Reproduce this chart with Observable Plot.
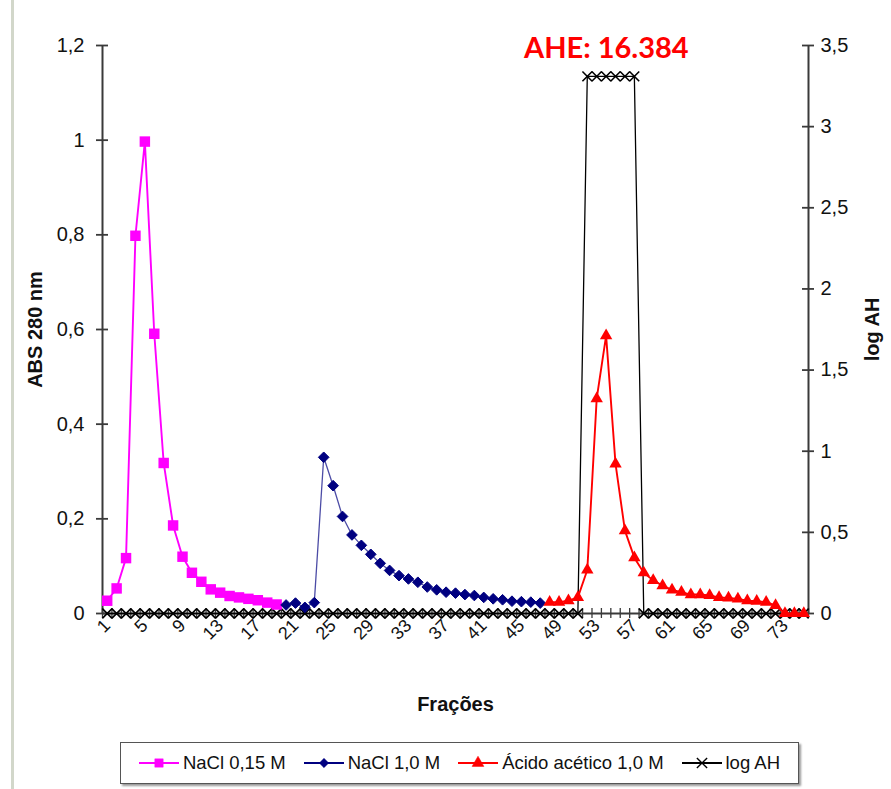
<!DOCTYPE html>
<html><head><meta charset="utf-8">
<script src="https://cdn.jsdelivr.net/npm/d3@7"></script>
<script src="https://cdn.jsdelivr.net/npm/@observablehq/plot@0.6"></script>
<style>
body{margin:0;background:#fff;font-family:"Liberation Sans",Arial,sans-serif;}
#wrap{position:relative;width:891px;height:789px;overflow:hidden;background:#fff;}
#edge{position:absolute;left:11px;top:0;width:3px;height:789px;background:#d2d7ca;}
#chart{position:absolute;left:0;top:0;}
#title{position:absolute;left:524px;top:29px;font-family:Lato,"Open Sans",sans-serif;font-weight:bold;font-size:29px;color:#ff0000;line-height:36px;white-space:nowrap;}
#legend{position:absolute;left:120px;top:742px;width:677px;height:40px;border:1.5px solid #555;box-shadow:2px 2px 2px #999;display:flex;align-items:center;justify-content:space-evenly;font-size:18.5px;color:#111;background:#fff;}
.item{display:flex;align-items:center;gap:4px;white-space:nowrap;}
g[aria-label="y-axis label"] text, g[aria-label="x-axis label"] text{font-weight:bold;font-size:20px;}
</style></head>
<body><div id="wrap"><div id="edge"></div><div id="chart"></div><div id="title">AHE: 16.384</div><div id="legend"></div></div>
<script>
// Categories (fractions)
const fractions = [1,2,3,4,5,6,7,8,9,10,11,12,13,14,15,16,17,18,19,20,21,22,23,24,25,26,27,28,29,30,31,32,33,34,35,36,37,38,39,40,41,42,43,44,45,46,47,48,49,50,51,52,53,54,55,56,57,58,59,60,61,62,63,64,65,66,67,68,69,70,71,72,73,74,75];
const xTickLabels = [1,5,9,13,17,21,25,29,33,37,41,45,49,53,57,61,65,69,73];
const leftTicks = [0,0.2,0.4,0.6,0.8,1,1.2];
const rightTicks = [0,0.5,1,1.5,2,2.5,3,3.5];

// NaCl 0,15 M (fractions 1-19)
const naclLowFrac = [1,2,3,4,5,6,7,8,9,10,11,12,13,14,15,16,17,18,19];
const naclLowVals = [0.027,0.053,0.117,0.798,0.997,0.591,0.318,0.186,0.12,0.086,0.067,0.051,0.044,0.037,0.034,0.031,0.028,0.023,0.019];
// NaCl 1,0 M (fractions 20-47)
const naclHighFrac = [20,21,22,23,24,25,26,27,28,29,30,31,32,33,34,35,36,37,38,39,40,41,42,43,44,45,46,47];
const naclHighVals = [0.018,0.022,0.013,0.023,0.33,0.27,0.205,0.166,0.144,0.125,0.106,0.091,0.08,0.073,0.066,0.056,0.05,0.045,0.043,0.04,0.038,0.034,0.031,0.029,0.026,0.025,0.024,0.022];
// Ácido acético 1,0 M (fractions 48-75)
const acidFrac = [48,49,50,51,52,53,54,55,56,57,58,59,60,61,62,63,64,65,66,67,68,69,70,71,72,73,74,75];
const acidVals = [0.024,0.024,0.027,0.034,0.092,0.454,0.587,0.316,0.175,0.118,0.086,0.07,0.059,0.05,0.045,0.04,0.04,0.038,0.034,0.033,0.031,0.027,0.026,0.024,0.017,0,0,0];
// log AH (secondary axis), fractions 1-75
const logAH = [0,0,0,0,0,0,0,0,0,0,0,0,0,0,0,0,0,0,0,0,0,0,0,0,0,0,0,0,0,0,0,0,0,0,0,0,0,0,0,0,0,0,0,0,0,0,0,0,0,0,0,3.31,3.31,3.31,3.31,3.31,3.31,0,0,0,0,0,0,0,0,0,0,0,0,0,0,0,0,0,0];

const xDomain = [0.5, 75.5];
const yDomain = [0, 1.2];
const y2Domain = [0, 3.5];
const k = yDomain[1] / y2Domain[1];
const fmt = v => String(Math.round(v * 100) / 100).replace(".", ",");

const low = naclLowFrac.map((f, i) => ({f, v: naclLowVals[i]}));
const high = naclHighFrac.map((f, i) => ({f, v: naclHighVals[i]}));
const acid = acidFrac.map((f, i) => ({f, v: acidVals[i]}));
const ah = fractions.map((f, i) => ({f, v: logAH[i] * k}));
const boundaries = [xDomain[0], ...fractions.map(f => f + 0.5)];

const C = {pink: "#ff00ff", blue: "#000080", red: "#ff0000", black: "#000000", axis: "#3a3a3a"};

const chart = Plot.plot({
  width: 891, height: 735,
  marginTop: 45, marginBottom: 122, marginLeft: 102, marginRight: 83,
  style: {fontFamily: "'Liberation Sans', Arial, sans-serif", fontSize: "20px", color: "#111", background: "transparent", overflow: "visible"},
  x: {domain: xDomain},
  y: {domain: yDomain},
  marks: [
    Plot.axisY({ticks: leftTicks, anchor: "left", tickSize: 0, tickPadding: 18, tickFormat: fmt, label: "ABS 280 nm", labelAnchor: "center", labelArrow: "none", labelOffset: 75, fontSize: 20}),
    Plot.axisY({ticks: rightTicks.map(t => t * k), anchor: "right", tickSize: 0, tickPadding: 12, tickFormat: d => fmt(d / k), label: "log AH", labelAnchor: "center", labelArrow: "none", labelOffset: 70, fontSize: 20}),
    Plot.axisX({ticks: xTickLabels, anchor: "bottom", tickSize: 0, tickPadding: 9, tickRotate: -45, fontSize: 18, label: "Frações", labelAnchor: "center", labelArrow: "none", labelOffset: 97}),
    // axis lines and tick marks
    Plot.ruleX([xDomain[0], xDomain[1]], {y1: () => yDomain[0], y2: () => yDomain[1], stroke: C.axis, strokeWidth: 2}),
    Plot.ruleY([yDomain[0]], {stroke: C.axis, strokeWidth: 2}),
    Plot.ruleY(leftTicks, {y: d => d, x1: () => xDomain[0], x2: () => xDomain[0], insetLeft: -6, insetRight: -6, stroke: C.axis, strokeWidth: 1.8}),
    Plot.ruleY(rightTicks.map(t => t * k), {y: d => d, x1: () => xDomain[1], x2: () => xDomain[1], insetLeft: -6, insetRight: -6, stroke: C.axis, strokeWidth: 1.8}),
    Plot.ruleX(boundaries, {x: d => d, y1: () => yDomain[0], y2: () => yDomain[0], insetTop: -5, insetBottom: -5, stroke: C.axis, strokeWidth: 1.3}),
    // log AH
    Plot.line(ah, {x: "f", y: "v", stroke: C.black, strokeWidth: 1.3}),
    Plot.dot(ah, {x: "f", y: "v", symbol: "times", r: 4.5, stroke: C.black, strokeWidth: 1.6}),
    // NaCl 0,15 M
    Plot.line(low, {x: "f", y: "v", stroke: C.pink, strokeWidth: 1.9}),
    Plot.dot(low, {x: "f", y: "v", symbol: "square", r: 5.9, fill: C.pink, stroke: "none"}),
    // NaCl 1,0 M
    Plot.line(high, {x: "f", y: "v", stroke: C.blue, strokeWidth: 1.3, strokeOpacity: 0.7}),
    Plot.dot(high, {x: "f", y: "v", symbol: "diamond2", r: 4.8, fill: C.blue, stroke: C.blue, strokeWidth: 1}),
    // Ácido acético 1,0 M
    Plot.line(acid, {x: "f", y: "v", stroke: C.red, strokeWidth: 1.9}),
    Plot.dot(acid, {x: "f", y: "v", symbol: "triangle", r: 4.6, fill: C.red, stroke: "none"})
  ]
});
document.getElementById("chart").appendChild(chart);

// Legend
const legendItems = [
  {name: "NaCl 0,15 M", color: C.pink, sym: d3.symbolSquare, size: 70, fill: true},
  {name: "NaCl 1,0 M", color: C.blue, sym: d3.symbolDiamond2, size: 55, fill: true},
  {name: "Ácido acético 1,0 M", color: C.red, sym: d3.symbolTriangle, size: 60, fill: true},
  {name: "log AH", color: C.black, sym: d3.symbolTimes, size: 70, fill: false}
];
const legend = document.getElementById("legend");
for (const it of legendItems) {
  const div = document.createElement("div");
  div.className = "item";
  const path = d3.symbol(it.sym, it.size)();
  div.innerHTML = `<svg width="40" height="16"><line x1="0" y1="8" x2="40" y2="8" stroke="${it.color}" stroke-width="1.8"/><path transform="translate(20,8)" d="${path}" fill="${it.fill ? it.color : "none"}" stroke="${it.color}" stroke-width="${it.fill ? 0.5 : 1.4}"/></svg><span>${it.name}</span>`;
  legend.appendChild(div);
}
</script>
</body></html>
